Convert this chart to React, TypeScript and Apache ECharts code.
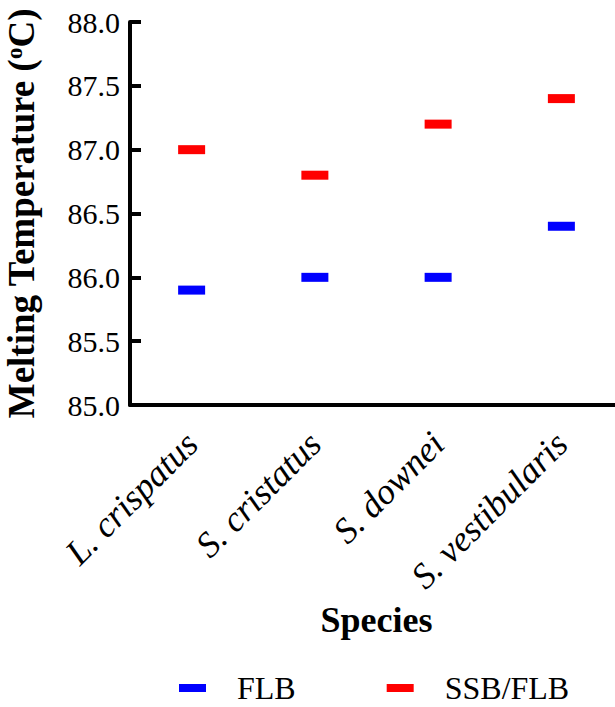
import React, { useEffect, useRef } from "react";
import * as echarts from "echarts";

const species = ["L. crispatus", "S. cristatus", "S. downei", "S. vestibularis"];
const flb = [85.9, 86.0, 86.0, 86.4];
const ssbFlb = [87.0, 86.8, 87.2, 87.4];
const seriesNames = ["FLB", "SSB/FLB"];
const seriesColors = ["#0000ff", "#ff0000"];

const FONT = "Liberation Serif";

export default function App() {
  const ref = useRef<HTMLDivElement>(null);

  useEffect(() => {
    if (!ref.current) return;
    const chart = echarts.init(ref.current, undefined, { renderer: "svg" });
    chart.setOption({
      animation: false,
      backgroundColor: "#ffffff",
      textStyle: { fontFamily: FONT, fontStyle: "normal", fontWeight: "normal", color: "#000" },
      grid: {
        left: 130,
        top: 22,
        width: 493,
        height: 383,
        containLabel: false,
        outerBoundsMode: "none",
      },
      legend: {
        data: seriesNames,
        left: 174,
        top: 667,
        icon: "rect",
        itemWidth: 27,
        itemHeight: 8,
        itemGap: 91,
        textStyle: {
          fontFamily: FONT,
          fontStyle: "normal",
          fontWeight: "normal",
          fontSize: 32,
          lineHeight: 31,
          color: "#000",
          padding: [0, 0, 0, 26],
        },
      },
      xAxis: {
        type: "category",
        data: species,
        boundaryGap: true,
        name: "Species",
        nameLocation: "middle",
        nameGap: 197,
        nameTextStyle: { fontFamily: FONT, fontSize: 36, fontWeight: "bold", color: "#000" },
        axisLine: { lineStyle: { color: "#000", width: 4 } },
        axisTick: { alignWithLabel: true, length: 15, lineStyle: { color: "#000", width: 4 } },
        axisLabel: {
          rotate: 45,
          margin: 33,
          fontFamily: FONT,
          fontStyle: "italic",
          fontSize: 36,
          color: "#000",
        },
        splitLine: { show: false },
      },
      yAxis: {
        type: "value",
        min: 85,
        max: 88,
        interval: 0.5,
        name: "Melting Temperature ({sup|o}C)",
        nameLocation: "middle",
        nameGap: 90,
        nameTextStyle: {
          fontFamily: FONT,
          fontSize: 37,
          fontWeight: "bold",
          color: "#000",
          rich: {
            sup: {
              fontFamily: FONT,
              fontSize: 23,
              fontWeight: "bold",
              color: "#000",
              verticalAlign: "top",
              padding: [0, 0, 14, 0],
            },
          },
        },
        axisLine: { show: true, lineStyle: { color: "#000", width: 4 } },
        axisTick: { show: true, inside: true, length: 11, lineStyle: { color: "#000", width: 4 } },
        axisLabel: {
          margin: 10,
          fontFamily: FONT,
          fontStyle: "normal",
          fontWeight: "normal",
          fontSize: 30,
          color: "#000",
          formatter: (v: number) => v.toFixed(1),
        },
        splitLine: { show: false },
      },
      series: [
        {
          name: seriesNames[0],
          type: "scatter",
          data: flb,
          symbol: "rect",
          symbolSize: [27, 9],
          itemStyle: { color: seriesColors[0], opacity: 1 },
        },
        {
          name: seriesNames[1],
          type: "scatter",
          data: ssbFlb,
          symbol: "rect",
          symbolSize: [27, 9],
          itemStyle: { color: seriesColors[1], opacity: 1 },
        },
      ],
    });
    return () => chart.dispose();
  }, []);

  return (
    <div
      ref={ref}
      style={{ position: "fixed", left: 0, top: 0, width: 615, height: 707, background: "#fff" }}
    />
  );
}
